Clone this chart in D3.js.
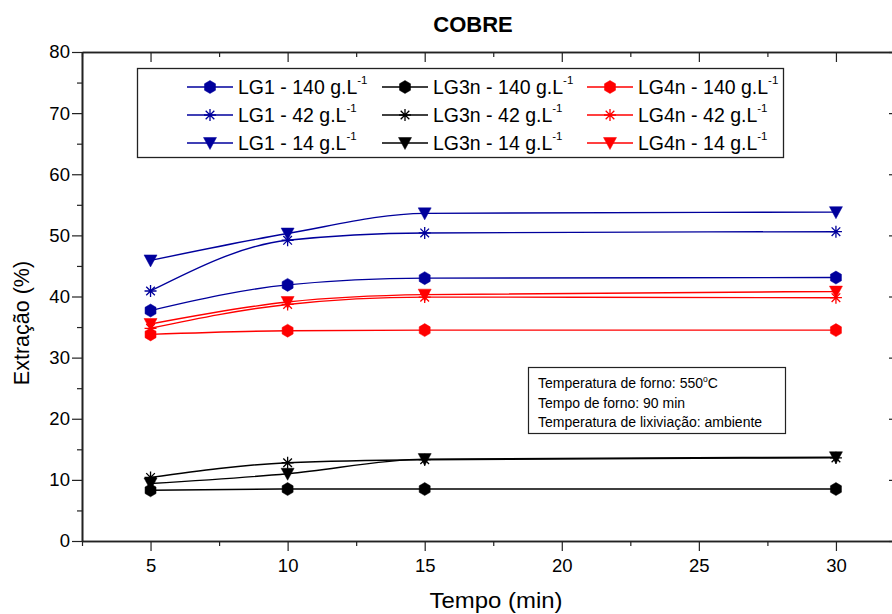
<!DOCTYPE html>
<html><head><meta charset="utf-8">
<script src="https://cdn.jsdelivr.net/npm/d3@7"></script>
<style>
html,body{margin:0;padding:0;background:#fff;}
svg{display:block;font-family:"Liberation Sans",Arial,sans-serif;}
</style></head>
<body><svg id="c" width="892" height="614"></svg>
<script>
// ---- data ----
const times = [5, 10, 15, 30];
const lg1_140 = [37.7, 41.9, 43.0, 43.1];
const lg1_42  = [40.9, 49.2, 50.4, 50.6];
const lg1_14  = [45.9, 50.3, 53.6, 53.8];
const lg3n_140 = [8.3, 8.5, 8.5, 8.5];
const lg3n_42  = [10.4, 12.8, 13.3, 13.6];
const lg3n_14  = [9.4, 11.0, 13.4, 13.7];
const lg4n_140 = [33.8, 34.4, 34.5, 34.5];
const lg4n_42  = [34.8, 38.7, 39.9, 39.8];
const lg4n_14  = [35.5, 39.1, 40.3, 40.8];
const seriesNames = ["LG1 - 140 g.L", "LG1 - 42 g.L", "LG1 - 14 g.L",
                     "LG3n - 140 g.L", "LG3n - 42 g.L", "LG3n - 14 g.L",
                     "LG4n - 140 g.L", "LG4n - 42 g.L", "LG4n - 14 g.L"];
const xTicks = [5, 10, 15, 20, 25, 30];
const yTicks = [0, 10, 20, 30, 40, 50, 60, 70, 80];
const title = "COBRE";
const xTitle = "Tempo (min)";
const yTitle = "Extração (%)";
const noteLines = ["Temperatura de forno: 550", "Tempo de forno: 90 min", "Temperatura de lixiviação: ambiente"];

// ---- styling ----
const BLUE = "#00009c", RED = "#ff0000", BLACK = "#000000";
const series = [
  {name: seriesNames[0], vals: lg1_140, color: BLUE, marker: "hex"},
  {name: seriesNames[1], vals: lg1_42, color: BLUE, marker: "star"},
  {name: seriesNames[2], vals: lg1_14, color: BLUE, marker: "tri"},
  {name: seriesNames[3], vals: lg3n_140, color: BLACK, marker: "hex"},
  {name: seriesNames[4], vals: lg3n_42, color: BLACK, marker: "star"},
  {name: seriesNames[5], vals: lg3n_14, color: BLACK, marker: "tri"},
  {name: seriesNames[6], vals: lg4n_140, color: RED, marker: "hex"},
  {name: seriesNames[7], vals: lg4n_42, color: RED, marker: "star"},
  {name: seriesNames[8], vals: lg4n_14, color: RED, marker: "tri"}
];

const svg = d3.select("#c");
const x = d3.scaleLinear().domain([2.5, 32.3]).range([82, 899]);
const y = d3.scaleLinear().domain([0, 80]).range([541, 52]);
const AX = "#222";

function markerPath(type) {
  if (type === "hex") {
    const w = 5.5, h = 6.5;
    return `M0,${-h}L${w},${-h/2}L${w},${h/2}L0,${h}L${-w},${h/2}L${-w},${-h/2}Z`;
  }
  if (type === "tri") {
    return "M-6.5,-5.5L6.5,-5.5L0,6.5Z";
  }
  const r = 6, d = r * 0.72;
  return `M0,${-r}L0,${r}M${-r},0L${r},0M${-d},${-d}L${d},${d}M${-d},${d}L${d},${-d}`;
}
function drawMarker(g, type, color, cx, cy) {
  const p = g.append("path").attr("d", markerPath(type))
    .attr("transform", `translate(${cx},${cy})`);
  if (type === "star") p.attr("fill", "none").attr("stroke", color).attr("stroke-width", 1.3);
  else p.attr("fill", color).attr("stroke", color).attr("stroke-width", 0.5);
}

// ---- axes ----
const minorX = d3.range(2.5, 32.4, 2.5).filter(v => !xTicks.includes(v));
const minorY = d3.range(5, 80, 10);
const axG = svg.append("g");
// bottom
axG.append("g").attr("transform", `translate(0,${y(0)})`)
  .call(d3.axisBottom(x).tickValues(xTicks).tickSize(10).tickSizeOuter(0).tickFormat(d3.format("d")))
  .call(g => g.selectAll("text").attr("font-size", 18.5).attr("dy", "0.95em").attr("fill", "#000"));
axG.append("g").attr("transform", `translate(0,${y(0)})`)
  .call(d3.axisBottom(x).tickValues(minorX).tickSize(5).tickSizeOuter(0).tickFormat(""));
// top
axG.append("g").attr("transform", `translate(0,${y(80)})`)
  .call(d3.axisBottom(x).tickValues(xTicks).tickSize(10).tickSizeOuter(0).tickFormat(""));
axG.append("g").attr("transform", `translate(0,${y(80)})`)
  .call(d3.axisBottom(x).tickValues(minorX).tickSize(5).tickSizeOuter(0).tickFormat(""));
// left
axG.append("g").attr("transform", `translate(${x(2.5)},0)`)
  .call(d3.axisLeft(y).tickValues(yTicks).tickSize(10).tickSizeOuter(0).tickFormat(d3.format("d")))
  .call(g => g.selectAll("text").attr("font-size", 18.5).attr("dx", "0.05em").attr("fill", "#000"));
axG.append("g").attr("transform", `translate(${x(2.5)},0)`)
  .call(d3.axisLeft(y).tickValues(minorY).tickSize(5).tickSizeOuter(0).tickFormat(""));
// right
axG.append("g").attr("transform", `translate(${x(32.3)},0)`)
  .call(d3.axisRight(y).tickValues(yTicks).tickSize(-10).tickSizeOuter(0).tickFormat(""));
axG.append("g").attr("transform", `translate(${x(32.3)},0)`)
  .call(d3.axisRight(y).tickValues(minorY).tickSize(-5).tickSizeOuter(0).tickFormat(""));
axG.selectAll(".domain").attr("stroke", AX).attr("stroke-width", 1.6);
axG.selectAll(".tick line").attr("stroke", AX).attr("stroke-width", 1.2);
axG.selectAll("text").attr("font-family", "Liberation Sans, Arial, sans-serif");

// ---- series ----
const line = d3.line().x((d, i) => x(times[i])).y(d => y(d)).curve(d3.curveMonotoneX);
const plot = svg.append("g");
series.forEach(s => {
  plot.append("path").datum(s.vals).attr("d", line)
    .attr("fill", "none").attr("stroke", s.color).attr("stroke-width", 1.4);
});
series.forEach(s => {
  s.vals.forEach((v, i) => drawMarker(plot, s.marker, s.color, x(times[i]), y(v)));
});

// ---- legend ----
const leg = svg.append("g");
leg.append("rect").attr("x", 137.5).attr("y", 68.5).attr("width", 646).attr("height", 89)
  .attr("fill", "#fff").attr("stroke", "#222").attr("stroke-width", 1.3);
const colX = [187, 382, 587];
const rowY = [87, 115, 143];
series.forEach((s, k) => {
  const cx = colX[Math.floor(k / 3)], cy = rowY[k % 3];
  leg.append("line").attr("x1", cx).attr("x2", cx + 46).attr("y1", cy).attr("y2", cy)
    .attr("stroke", s.color).attr("stroke-width", 1.4);
  drawMarker(leg, s.marker, s.color, cx + 23, cy);
  const t = leg.append("text").attr("x", cx + 51).attr("y", cy + 7)
    .attr("font-size", 19.5).attr("fill", "#000");
  t.append("tspan").text(s.name);
  t.append("tspan").text("-1").attr("font-size", 11.5).attr("dy", -10);
});

// ---- note box ----
const note = svg.append("g");
note.append("rect").attr("x", 528.5).attr("y", 367.5).attr("width", 257).attr("height", 66)
  .attr("fill", "#fff").attr("stroke", "#222").attr("stroke-width", 1.2);
noteLines.forEach((l, i) => {
  const t = note.append("text").attr("x", 538).attr("y", 388 + i * 19.5)
    .attr("font-size", 14).attr("fill", "#000");
  t.append("tspan").text(l);
  if (i === 0) {
    t.append("tspan").text("o").attr("font-size", 8.5).attr("dy", -6);
    t.append("tspan").text("C").attr("dy", 6);
  }
});

// ---- titles ----
svg.append("text").attr("x", 473).attr("y", 32).attr("text-anchor", "middle")
  .attr("font-size", 22).attr("font-weight", "bold").text(title);
svg.append("text").attr("x", 496).attr("y", 608).attr("text-anchor", "middle")
  .attr("font-size", 22).attr("textLength", 133).attr("lengthAdjust", "spacingAndGlyphs").text(xTitle);
svg.append("text").attr("transform", `translate(29,323) rotate(-90)`)
  .attr("text-anchor", "middle").attr("font-size", 21.5).text(yTitle);
</script></body></html>
